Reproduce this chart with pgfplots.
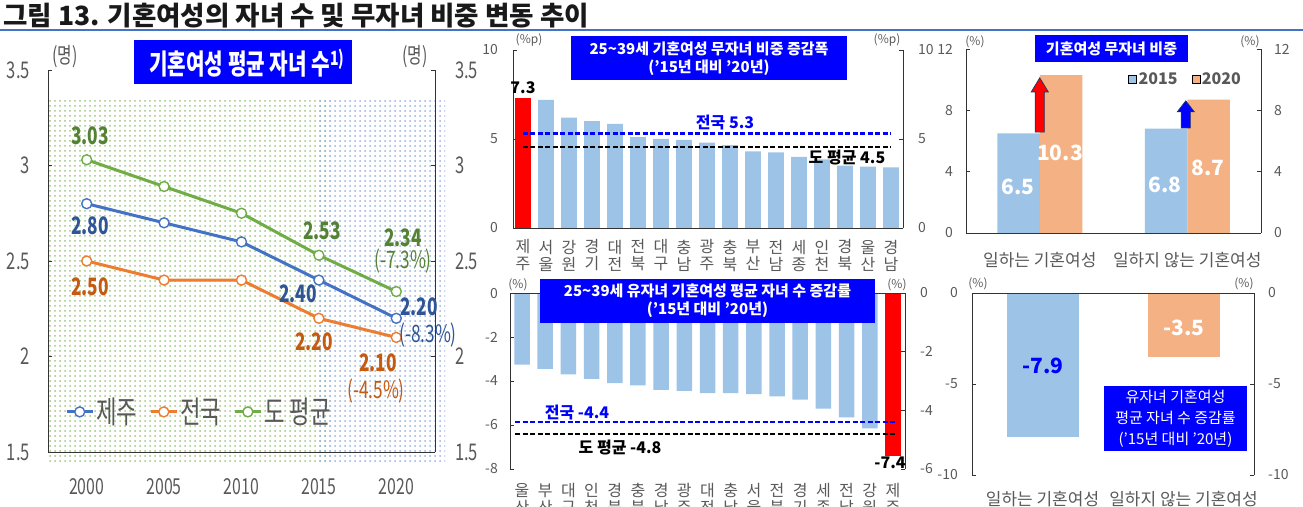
\documentclass[border=0pt]{standalone}
\usepackage{fontspec}
\setmainfont{Noto Sans CJK KR}
\newfontfamily\nar[FakeStretch=0.72]{Noto Sans CJK KR}
\usepackage{pgfplots}
\pgfplotsset{compat=1.18}
\usetikzlibrary{patterns.meta,arrows.meta}
\definecolor{cblue}{HTML}{4472C4}
\definecolor{corange}{HTML}{ED7D31}
\definecolor{cgreen}{HTML}{70AD47}
\definecolor{tblue}{HTML}{2F5597}
\definecolor{torange}{HTML}{C55A11}
\definecolor{tgreen}{HTML}{548235}
\definecolor{lbar}{HTML}{9DC3E6}
\definecolor{obar}{HTML}{F4B183}
\definecolor{boxblue}{HTML}{0000FF}
\definecolor{tgray}{HTML}{595959}
\definecolor{navyc}{HTML}{1F3864}
\newcommand{\tf}{\fontsize{14}{14}\selectfont}
\pgfplotsset{
  base/.style={scale only axis, anchor=south west, clip=false,
    axis line style={black!80, line width=0.8pt},
    tick align=inside, major tick length=4pt,
    tick style={black!80, line width=0.8pt},
    /pgf/number format/assume math mode=true,
    tick label style={text=tgray},
  },
}
\begin{document}
\begin{tikzpicture}[x=1pt,y=1pt]
\useasboundingbox (0,0) rectangle (1303,506);
% title
\node[anchor=west, font=\bfseries\fontsize{26.5}{26.5}\selectfont, text=black!90, inner sep=0pt] at (3,490) {그림 13. 기혼여성의 자녀 수 및 무자녀 비중 변동 추이};
\draw[cblue, line width=1.5pt] (0,476) -- (1303,476);
% backgrounds of left panel
\fill[pattern={Dots[distance=5pt,radius=1pt]}, pattern color=cgreen!70] (48,43) rectangle (330,408);
\fill[pattern={Dots[distance=5pt,radius=1pt]}, pattern color=cblue!55] (318,43) rectangle (445,408);

% ===== left panel =====
\begin{axis}[base, at={(48pt,54pt)}, width=387pt, height=382pt,
  xmin=1997.5, xmax=2022.5, ymin=1.5, ymax=3.5,
  axis x line*=bottom, axis y line*=left,
  xtick={2000,2005,2010,2015,2020}, xtick style={draw=none},
  xticklabels={2000,2005,2010,2015,2020},
  ytick={1.5,2,2.5,3,3.5},
  yticklabel style={font=\nar\fontsize{23}{23}\selectfont, anchor=east, inner sep=0pt, xshift=-18pt},
  xticklabel style={font=\nar\fontsize{22}{22}\selectfont, anchor=center, inner sep=0pt, yshift=-35pt},
  legend style={at={(0.044,0.105)}, anchor=west, draw=none, fill=none,
    font=\nar\fontsize{31}{31}\selectfont, text=tgray, legend columns=3,
    /tikz/every even column/.append style={column sep=10pt}, inner sep=0pt},
  legend image code/.code={\draw[mark repeat=2,mark phase=2,#1] plot coordinates {(0pt,0pt) (13pt,0pt) (26pt,0pt)};},
]
\addplot[cblue, line width=3pt, mark=*, mark size=5pt, mark options={fill=white, line width=1.4pt}] coordinates {(2000,2.80) (2005,2.70) (2010,2.60) (2015,2.40) (2020,2.20)};
\addlegendentry{제주}
\addplot[corange, line width=3pt, mark=*, mark size=5pt, mark options={fill=white, line width=1.4pt}] coordinates {(2000,2.50) (2005,2.40) (2010,2.40) (2015,2.20) (2020,2.10)};
\addlegendentry{전국}
\addplot[cgreen, line width=3pt, mark=*, mark size=5pt, mark options={fill=white, line width=1.4pt}] coordinates {(2000,3.03) (2005,2.89) (2010,2.75) (2015,2.53) (2020,2.34)};
\addlegendentry{도 평균}
\end{axis}
\begin{axis}[base, at={(48pt,54pt)}, width=387pt, height=382pt,
  xmin=1997.5, xmax=2022.5, ymin=1.5, ymax=3.5,
  axis x line=none, axis y line*=right,
  ytick={1.5,2,2.5,3,3.5},
  yticklabel style={font=\nar\fontsize{23}{23}\selectfont, anchor=west, inner sep=0pt, xshift=20pt},
]
\addplot[draw=none] coordinates {(2000,2)};
\end{axis}

% ===== middle top =====
\begin{axis}[base, at={(513pt,278pt)}, width=390pt, height=178pt,
  xmin=-0.43, xmax=16.52, ymin=0, ymax=10,
  axis x line*=bottom, axis y line*=left,
  ytick={0,5,10}, xtick={0,...,16}, xtick style={draw=none},
  xticklabels={{제\\주},{서\\울},{강\\원},{경\\기},{대\\전},{전\\북},{대\\구},{충\\남},{광\\주},{충\\북},{부\\산},{전\\남},{세\\종},{인\\천},{경\\북},{울\\산},{경\\남}},
  xticklabel style={font=\fontsize{16}{17}\selectfont, align=center, anchor=center, inner sep=0pt, yshift=-23.5pt},
  yticklabel style={font=\tf, anchor=east, inner sep=0pt, xshift=-15pt},
  ybar, bar width=15.7pt,
]
\addplot[fill=red, draw=none, bar shift=0pt] coordinates {(0,7.3)};
\addplot[fill=lbar, draw=none, bar shift=0pt] coordinates {(1,7.2) (2,6.2) (3,6.0) (4,5.85) (5,5.1) (6,5.0) (7,4.95) (8,4.8) (9,4.65) (10,4.3) (11,4.25) (12,4.0) (13,3.85) (14,3.5) (15,3.45) (16,3.4)};
\end{axis}
\begin{axis}[base, at={(513pt,278pt)}, width=390pt, height=178pt,
  xmin=-0.43, xmax=16.52, ymin=0, ymax=10,
  axis x line=none, axis y line*=right, ytick={0,5,10},
  yticklabel style={font=\tf, anchor=west, inner sep=0pt, xshift=15pt},
]
\addplot[boxblue, line width=2.5pt, dash pattern=on 5pt off 2.5pt] coordinates {(0,5.3) (16,5.3)};
\addplot[black, line width=2.5pt, dash pattern=on 5pt off 2.5pt] coordinates {(0,4.55) (16,4.55)};
\end{axis}

% ===== middle bottom =====
\begin{axis}[base, at={(510pt,37pt)}, width=395pt, height=176pt,
  xmin=-0.52, xmax=16.52, ymin=-8, ymax=0,
  axis x line*=bottom, x axis line style={draw=none}, axis y line*=left,
  ytick={0,-2,-4,-6,-8}, xtick={0,...,16}, xtick style={draw=none},
  xticklabels={{울\\산},{부\\산},{대\\구},{인\\천},{경\\북},{충\\북},{경\\남},{광\\주},{대\\전},{충\\남},{서\\울},{전\\북},{경\\기},{세\\종},{전\\남},{강\\원},{제\\주}},
  xticklabel style={font=\fontsize{16}{17}\selectfont, align=center, anchor=center, inner sep=0pt, yshift=-26pt},
  yticklabel style={font=\tf, anchor=east, inner sep=0pt, xshift=-12pt},
  ybar, bar width=15.5pt,
]
\addplot[fill=lbar, draw=none, bar shift=0pt] coordinates {(0,-3.25) (1,-3.45) (2,-3.7) (3,-3.9) (4,-4.1) (5,-4.2) (6,-4.4) (7,-4.45) (8,-4.55) (9,-4.55) (10,-4.6) (11,-4.7) (12,-4.85) (13,-5.25) (14,-5.65) (15,-6.15)};
\addplot[fill=red, draw=none, bar shift=0pt] coordinates {(16,-7.4)};
\draw[black!80, line width=0.8pt] (rel axis cs:0,1) -- (rel axis cs:1,1);
\end{axis}
\begin{axis}[base, at={(510pt,37pt)}, width=395pt, height=176pt,
  xmin=-0.52, xmax=16.52, ymin=-6, ymax=0,
  axis x line=none, axis y line*=right, ytick={0,-2,-4,-6},
  yticklabel style={font=\tf, anchor=west, inner sep=0pt, xshift=15pt},
]
\addplot[boxblue, line width=2.5pt, dash pattern=on 5pt off 2.5pt] coordinates {(-0.3,-4.4) (16.1,-4.4)};
\addplot[black, line width=2.5pt, dash pattern=on 5pt off 2.5pt] coordinates {(-0.3,-4.8) (16.1,-4.8)};
\end{axis}

% ===== right top =====
\begin{axis}[base, at={(966pt,273pt)}, width=295pt, height=184pt,
  xmin=-0.5, xmax=1.5, ymin=0, ymax=12,
  axis x line*=bottom, axis y line*=left,
  ytick={0,4,8,12}, xtick={0,1}, xtick style={draw=none},
  xticklabels={일하는 기혼여성, 일하지 않는 기혼여성},
  xticklabel style={font=\fontsize{17}{17}\selectfont, anchor=center, inner sep=0pt, yshift=-23pt},
  yticklabel style={font=\tf, anchor=east, inner sep=0pt, xshift=-13pt},
  ybar=0pt, bar width=42.5pt,
  legend style={at={(0.549,0.837)}, anchor=west, draw=none, fill=none, legend columns=2,
    font=\bfseries\fontsize{16}{16}\selectfont, text=tgray,
    /tikz/every even column/.append style={column sep=12pt}, inner sep=0pt},
  legend image code/.code={\draw[#1] (0pt,-4pt) rectangle (8pt,4pt);},
]
\addplot[fill=lbar, draw=none] coordinates {(0,6.5) (1,6.8)};
\addlegendentry{2015}
\addplot[fill=obar, draw=none] coordinates {(0,10.3) (1,8.7)};
\addlegendentry{2020}
\draw[fill=red, draw=navyc, line width=0.7pt] (axis cs:-0.031,6.58) -- (axis cs:0.031,6.58) -- (axis cs:0.031,9.2) -- (axis cs:0.058,9.2) -- (axis cs:0,10.12) -- (axis cs:-0.058,9.2) -- (axis cs:-0.031,9.2) -- cycle;
\draw[fill=boxblue, draw=navyc, line width=0.7pt] (axis cs:0.959,6.85) -- (axis cs:1.021,6.85) -- (axis cs:1.021,7.9) -- (axis cs:1.048,7.9) -- (axis cs:0.99,8.62) -- (axis cs:0.932,7.9) -- (axis cs:0.959,7.9) -- cycle;
\end{axis}
\begin{axis}[base, at={(966pt,273pt)}, width=295pt, height=184pt,
  xmin=-0.5, xmax=1.5, ymin=0, ymax=12,
  axis x line=none, axis y line*=right, ytick={0,4,8,12},
  yticklabel style={font=\tf, anchor=west, inner sep=0pt, xshift=13pt},
]
\addplot[draw=none] coordinates {(0,1)};
\end{axis}

% ===== right bottom =====
\begin{axis}[base, at={(972pt,31pt)}, width=282pt, height=182pt,
  xmin=-0.5, xmax=1.5, ymin=-10, ymax=0,
  axis x line*=bottom, x axis line style={draw=none}, axis y line*=left,
  ytick={0,-5,-10}, xtick={0,1}, xtick style={draw=none},
  xticklabels={일하는 기혼여성, 일하지 않는 기혼여성},
  xticklabel style={font=\fontsize{17}{17}\selectfont, anchor=center, inner sep=0pt, yshift=-20pt},
  yticklabel style={font=\tf, anchor=east, inner sep=0pt, xshift=-14pt},
  ybar, bar width=72pt,
]
\addplot[fill=lbar, draw=none, bar shift=0pt] coordinates {(0,-7.9)};
\addplot[fill=obar, draw=none, bar shift=0pt] coordinates {(1,-3.5)};
\draw[black!80, line width=0.8pt] (rel axis cs:0,1) -- (rel axis cs:1,1);
\end{axis}
\begin{axis}[base, at={(972pt,31pt)}, width=282pt, height=182pt,
  xmin=-0.5, xmax=1.5, ymin=-10, ymax=0,
  axis x line=none, axis y line*=right, ytick={0,-5,-10},
  yticklabel style={font=\tf, anchor=west, inner sep=0pt, xshift=14pt},
]
\addplot[draw=none] coordinates {(0,-1)};
\end{axis}

% ===== annotations: left panel =====
\fill[boxblue] (134,422) rectangle (352,466);
\node[text=white, font=\nar\bfseries\fontsize{28}{28}\selectfont, inner sep=0pt] at (247,443) {기혼여성 평균 자녀 수\textsuperscript{1)}};
\begin{scope}[every node/.style={inner sep=0pt, font=\nar\fontsize{22}{22}\selectfont, text=tgray}]
\node at (65,449) {(명)};
\node at (415,449) {(명)};
\end{scope}
\begin{scope}[every node/.style={inner sep=0pt, font=\nar\bfseries\fontsize{24}{24}\selectfont}]
\node[text=tgreen] at (90,370) {3.03};
\node[text=tblue] at (90,280) {2.80};
\node[text=torange] at (90,219) {2.50};
\node[text=tgreen] at (322,275) {2.53};
\node[text=tblue] at (298,212) {2.40};
\node[text=torange] at (314,164) {2.20};
\node[text=tgreen] at (403,268) {2.34};
\node[text=tblue] at (419,199) {2.20};
\node[text=torange] at (378,143) {2.10};
\end{scope}
\begin{scope}[every node/.style={inner sep=0pt, font=\nar\fontsize{24}{24}\selectfont}]
\node[text=tgreen] at (403,245) {(-7.3\%)};
\node[text=tblue] at (428,171) {(-8.3\%)};
\node[text=torange] at (376,115) {(-4.5\%)};
\end{scope}

% ===== annotations: middle =====
\begin{scope}[every node/.style={inner sep=0pt, font=\fontsize{12}{12}\selectfont, text=tgray}]
\node at (529,466) {(\%p)};
\node at (887,466) {(\%p)};
\node at (518,221) {(\%)};
\node at (897,221) {(\%)};
\node at (975,464) {(\%)};
\node at (1250,464) {(\%)};
\node at (978,222) {(\%)};
\node at (1244,222) {(\%)};
\end{scope}
\fill[boxblue] (571,426) rectangle (847,470);
\node[text=white, align=center, inner sep=0pt, font=\bfseries\fontsize{15}{18}\selectfont] at (709,447) {25\textasciitilde39세 기혼여성 무자녀 비중 증감폭\\('15년 대비 '20년)};
\fill[boxblue] (540,183) rectangle (875,227);
\node[text=white, align=center, inner sep=0pt, font=\bfseries\fontsize{15}{18}\selectfont] at (707.5,205.5) {25\textasciitilde39세 유자녀 기혼여성 평균 자녀 수 증감률\\('15년 대비 '20년)};
\begin{scope}[every node/.style={inner sep=0pt, font=\bfseries\fontsize{16}{16}\selectfont}]
\node[text=black] at (523,418) {7.3};
\node[text=boxblue] at (725,383) {전국 5.3};
\node[text=black] at (847,348) {도 평균 4.5};
\node[text=boxblue] at (577,93) {전국 -4.4};
\node[text=black] at (620,58) {도 평균 -4.8};
\node[text=black] at (890,43) {-7.4};
\end{scope}

% ===== annotations: right =====
\fill[boxblue] (1035,444) rectangle (1188,471);
\node[text=white, inner sep=0pt, font=\bfseries\fontsize{15}{15}\selectfont] at (1111.5,457.5) {기혼여성 무자녀 비중};
\begin{scope}[every node/.style={inner sep=0pt, font=\bfseries\fontsize{21}{21}\selectfont}]
\node[text=white] at (1018,319) {6.5};
\node[text=white] at (1060,353) {10.3};
\node[text=white] at (1165,321) {6.8};
\node[text=white] at (1208,338) {8.7};
\node[text=boxblue] at (1043,140) {-7.9};
\node[text=white] at (1184,178) {-3.5};
\end{scope}
\fill[boxblue] (1104,55) rectangle (1247,120);
\node[text=white, align=center, inner sep=0pt, font=\fontsize{15}{21}\selectfont] at (1175.5,87.5) {유자녀 기혼여성\\평균 자녀 수 증감률\\('15년 대비 '20년)};
\end{tikzpicture}
\end{document}
